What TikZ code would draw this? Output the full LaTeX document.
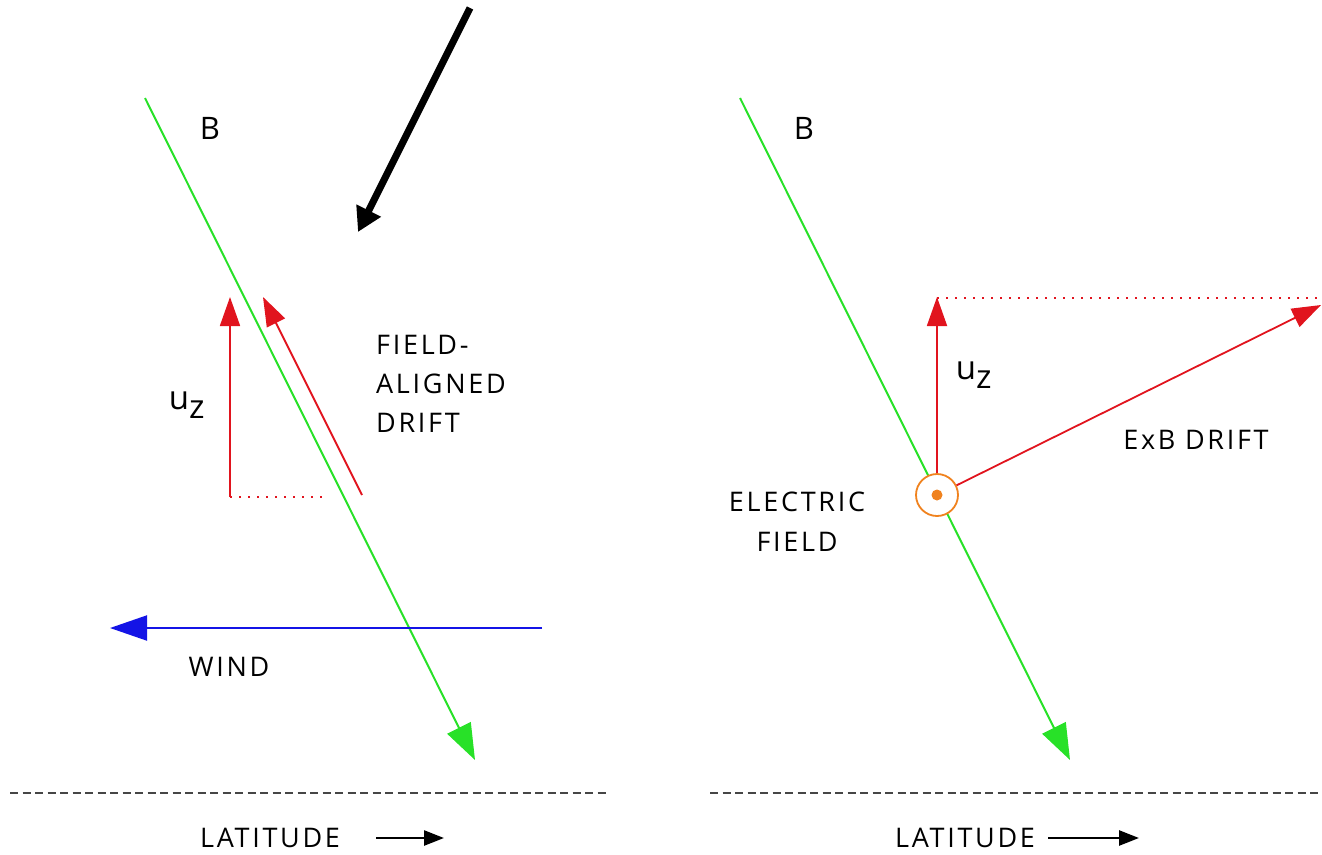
\documentclass[tikz,border=0pt]{standalone}
\usepackage{fontspec}
\setmainfont{Open Sans}[LetterSpace=10]
\newfontfamily\symfont{Open Sans}
\usetikzlibrary{arrows.meta}
\definecolor{bgreen}{RGB}{40,225,40}
\definecolor{ared}{RGB}{225,20,30}
\definecolor{ablue}{RGB}{20,20,230}
\definecolor{aorange}{RGB}{240,130,30}
\definecolor{dgray}{RGB}{70,70,70}
\tikzset{
  lbl/.style={inner sep=0pt, font=\fontsize{27}{27}\selectfont, text=black},
  lblB/.style={inner sep=0pt, font=\fontsize{31}{31}\selectfont, text=black},
  fieldline/.style={draw=bgreen, line width=2pt, -{Triangle[length=36pt,width=26pt]}},
  redarrow/.style={draw=ared, line width=1.8pt, -{Triangle[length=29pt,width=20pt]}},
  reddot/.style={draw=ared, line width=2pt, dash pattern=on 2pt off 7pt},
  windarrow/.style={draw=ablue, line width=2pt, -{Triangle[length=37pt,width=25pt]}},
  horizon/.style={draw=dgray, line width=1.6pt, dash pattern=on 8pt off 4.5pt},
  latarrow/.style={draw=black, line width=2.5pt, -{Triangle[length=20pt,width=15pt]}},
  bigarrow/.style={draw=black, line width=7pt, -{Triangle[length=24pt,width=26pt]}},
}
\begin{document}
\begin{tikzpicture}[x=1pt,y=-1pt]
\useasboundingbox (0,0) rectangle (1322,854);
% ---------- left panel ----------
\coordinate (bs) at (470,8);
\coordinate (be) at (358,232);
\draw[bigarrow] (bs) -- (be);

\coordinate (g1s) at (145,98);
\coordinate (g1e) at (475,760);
\draw[fieldline] (g1s) -- (g1e);
\node[lblB] (B1) at (210,128) {B};

\coordinate (uzb1) at (230,497);
\coordinate (uzt1) at (230,297);
\coordinate (dot1) at (323,497);
\draw[redarrow] (uzb1) -- (uzt1);
\draw[reddot] (uzb1) -- (dot1);
\node[inner sep=0pt, font=\symfont\fontsize{33}{33}\selectfont] (uz1) at (187,405) {u\textsubscript{\fontsize{33}{33}\selectfont z}};

\coordinate (fas) at (362,495);
\coordinate (fae) at (263,297);
\draw[redarrow] (fas) -- (fae);
\node[lbl, anchor=west] (fa1) at (376,345) {FIELD-};
\node[lbl, anchor=west] (fa2) at (376,384) {ALIGNED};
\node[lbl, anchor=west] (fa3) at (376,423) {DRIFT};

\coordinate (ws) at (542,628);
\coordinate (we) at (110,628);
\draw[windarrow] (ws) -- (we);
\node[lbl] (wind) at (229,667) {WIND};

\coordinate (h1s) at (10,793);
\coordinate (h1e) at (606,793);
\draw[horizon] (h1s) -- (h1e);
\node[lbl] (lat1) at (270,838) {LATITUDE};
\coordinate (la1s) at (376,838);
\coordinate (la1e) at (444,838);
\draw[latarrow] (la1s) -- (la1e);

% ---------- right panel ----------
\coordinate (g2s) at (740,98);
\coordinate (g2e) at (1070,760);
\draw[fieldline] (g2s) -- (g2e);
\node[lblB] (B2) at (804,128) {B};

\node[circle, draw=aorange, line width=1.8pt, fill=white, minimum size=42pt, inner sep=0pt] (ef) at (937,495) {};
\fill[aorange] (ef.center) circle (5.5pt);

\coordinate (uzt2) at (937,297);
\draw[redarrow] (ef.north) -- (uzt2);
\coordinate (dot2s) at (937,298);
\coordinate (dot2e) at (1322,298);
\draw[reddot] (dot2s) -- (dot2e);
\node[inner sep=0pt, font=\symfont\fontsize{33}{33}\selectfont] (uz2) at (974,375) {u\textsubscript{\fontsize{33}{33}\selectfont z}};

\coordinate (exbe) at (1321,305);
\draw[redarrow] (ef) -- (exbe);
\node[lbl] (exb) at (1196,440) {ExB DRIFT};

\node[lbl] (el1) at (797,502) {ELECTRIC};
\node[lbl] (el2) at (797,542) {FIELD};

\coordinate (h2s) at (710,793);
\coordinate (h2e) at (1322,793);
\draw[horizon] (h2s) -- (h2e);
\node[lbl] (lat2) at (965,838) {LATITUDE};
\coordinate (la2s) at (1048,838);
\coordinate (la2e) at (1139,838);
\draw[latarrow] (la2s) -- (la2e);
\end{tikzpicture}
\end{document}
